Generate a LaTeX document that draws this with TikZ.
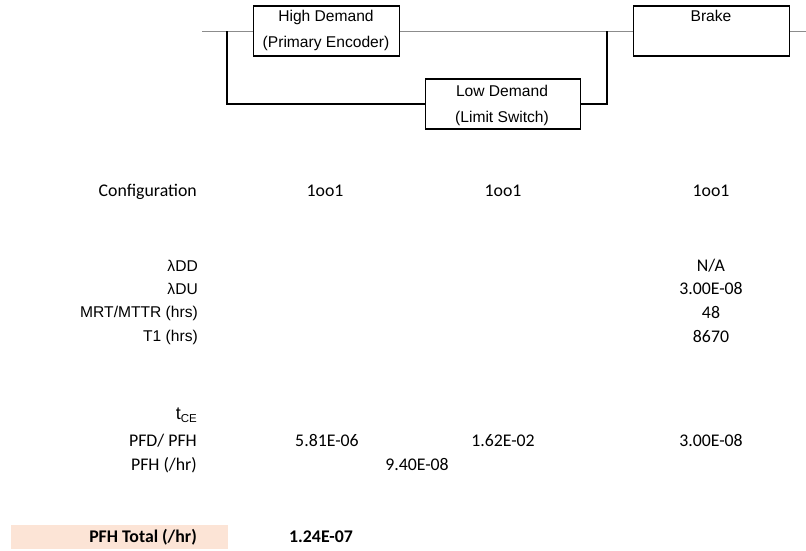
\documentclass[tikz,border=0pt]{standalone}
\usepackage{fontspec}
\setmainfont{Carlito}
\newfontfamily\arialf{Liberation Sans}
\definecolor{peach}{HTML}{FCE4D6}
\definecolor{wiregray}{HTML}{8C8C8C}
\begin{document}
\begin{tikzpicture}[x=1pt,y=-1pt,
  cal/.style={inner sep=0pt,font=\fontsize{17.8}{20}\selectfont},
  calb/.style={inner sep=0pt,font=\fontsize{17.8}{20}\selectfont\bfseries},
  ari/.style={inner sep=0pt,font=\arialf\fontsize{15.6}{18}\selectfont},
  lbl/.style={ari,anchor=base east},
  val/.style={cal,anchor=base},
  blk/.style={draw=black,line width=1.2pt,fill=white,minimum width=#1,minimum height=50pt,inner sep=0pt},
  graywire/.style={draw=wiregray,line width=0.9pt},
  blackwire/.style={draw=black,line width=1.5pt}
]
\useasboundingbox (0,0) rectangle (806,550);

\coordinate (start) at (202,31);
\coordinate (jl) at (227,31);
\coordinate (jr) at (607,31);
\coordinate (fin) at (806,31);

% boxes
\node[blk=146pt,anchor=west] (hd) at (253,31) {};
\node[blk=155pt,anchor=west] (ld) at (425,104) {};
\node[blk=156pt,anchor=west] (br) at (633,31) {};

% wires
\draw[graywire] (start) -- (hd.west);
\draw[graywire] (hd.east) -- (jr);
\draw[graywire] (jr) -- (br.west);
\draw[graywire] (br.east) -- (fin);
\draw[blackwire] (jl) |- (ld.west);
\draw[blackwire] (ld.east) -| (jr);

% box texts
\node[ari,anchor=base] (hd1) at (326,21) {High Demand};
\node[ari,anchor=base] (hd2) at (326,47) {(Primary Encoder)};
\node[ari,anchor=base] (ld1) at (502,96) {Low Demand};
\node[ari,anchor=base] (ld2) at (502,122) {(Limit Switch)};
\node[ari,anchor=base] (br1) at (711,21) {Brake};

% row labels
\node[cal,anchor=base east] (cfg) at (197,196) {Configuration};
\node[lbl] (ldd) at (198,271) {λDD};
\node[lbl] (ldu) at (198,294) {λDU};
\node[lbl] (mrt) at (198,317) {MRT/MTTR (hrs)};
\node[lbl] (t1) at (198,341) {T1 (hrs)};
\node[inner sep=0pt,anchor=base east,font=\arialf] (tce) at (197,419)
  {\fontsize{18}{20}\selectfont t\raisebox{-3pt}{\fontsize{11.5}{12}\selectfont CE}};
\node[cal,anchor=base east] (pfd) at (197,446) {PFD/ PFH};
\node[cal,anchor=base east] (pfh) at (197,470) {PFH (/hr)};

% values
\node[val] (c1) at (325,196) {1oo1};
\node[val] (c2) at (503,196) {1oo1};
\node[val] (c3) at (711,196) {1oo1};
\node[val] (v1) at (711,271) {N/A};
\node[val] (v2) at (711,294) {3.00E-08};
\node[val] (v3) at (711,318) {48};
\node[val] (v4) at (711,342) {8670};
\node[val] (p1) at (327,446) {5.81E-06};
\node[val] (p2) at (503,446) {1.62E-02};
\node[val] (p3) at (711,446) {3.00E-08};
\node[val] (ph) at (417,470) {9.40E-08};

% total row
\fill[peach] (11,525) rectangle (228,549);
\node[calb,anchor=base east] (tot) at (197,542) {PFH Total (/hr)};
\node[calb,anchor=base] (totv) at (321,542) {1.24E-07};
\end{tikzpicture}
\end{document}
